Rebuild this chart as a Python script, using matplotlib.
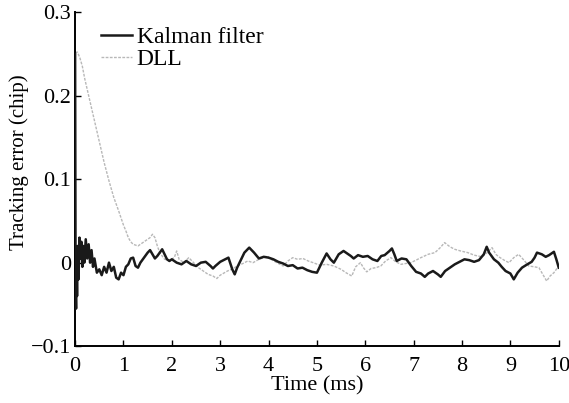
import numpy as np
import matplotlib
matplotlib.use("Agg")
import matplotlib.pyplot as plt

plt.rcParams['font.family'] = ['Liberation Serif', 'DejaVu Serif']

# Kalman filter tracking error
kf_t = [0.0, 0.005, 0.01, 0.02, 0.03, 0.04, 0.05, 0.07, 0.09, 0.11, 0.13, 0.15, 0.17, 0.19,
        0.22, 0.25, 0.28, 0.31, 0.34, 0.37, 0.40, 0.45, 0.50, 0.55, 0.60, 0.65, 0.70, 0.75,
        0.80, 0.85, 0.90, 0.95, 1.00, 1.05, 1.10, 1.15, 1.20, 1.25, 1.30, 1.35, 1.40, 1.45,
        1.50, 1.55, 1.60, 1.65, 1.70, 1.75, 1.80, 1.85, 1.90, 1.95, 2.00, 2.1, 2.2, 2.3, 2.4,
        2.5, 2.6, 2.7, 2.8, 2.85, 2.9, 3.0, 3.1, 3.17, 3.25, 3.3, 3.35, 3.4, 3.5, 3.6, 3.65,
        3.7, 3.8, 3.9, 4.0, 4.1, 4.2, 4.3, 4.4, 4.5, 4.6, 4.7, 4.8, 4.9, 5.0, 5.1, 5.2, 5.28,
        5.35, 5.45, 5.55, 5.6, 5.7, 5.76, 5.85, 5.95, 6.05, 6.15, 6.25, 6.33, 6.4, 6.5, 6.55,
        6.6, 6.65, 6.75, 6.85, 6.95, 7.05, 7.15, 7.23, 7.3, 7.4, 7.5, 7.56, 7.65, 7.75, 7.85,
        7.95, 8.05, 8.15, 8.25, 8.35, 8.45, 8.51, 8.56, 8.66, 8.75, 8.82, 8.9, 9.0, 9.07, 9.15,
        9.24, 9.35, 9.44, 9.5, 9.55, 9.65, 9.73, 9.8, 9.9, 9.95, 10.0]
kf_err = [0.25, 0.10, -0.03, -0.055, 0.0, -0.04, 0.02, -0.02, 0.03, 0.005, 0.025, -0.005, 0.02, 0.0,
          0.028, 0.005, 0.022, 0.0, 0.015, -0.005, 0.005, -0.012, -0.008, -0.015, -0.005, -0.012, 0.0, -0.01,
          -0.005, -0.018, -0.02, -0.012, -0.015, -0.005, -0.002, 0.005, 0.006, -0.004, -0.006, 0.0, 0.004, 0.008,
          0.012, 0.015, 0.01, 0.005, 0.008, 0.012, 0.016, 0.01, 0.004, 0.002, 0.004, 0.0, -0.002, 0.002, -0.002,
          -0.004, 0.0, 0.001, -0.004, -0.007, -0.004, 0.001, 0.004, 0.006, -0.008, -0.014, -0.006, 0.0, 0.012, 0.018, 0.015,
          0.012, 0.005, 0.007, 0.006, 0.004, 0.001, -0.001, -0.004, -0.003, -0.007, -0.006, -0.009, -0.011, -0.012, 0.0, 0.011, 0.004,
          0.0, 0.01, 0.014, 0.012, 0.008, 0.005, 0.009, 0.007, 0.008, 0.004, 0.002, 0.008, 0.009, 0.014, 0.017,
          0.01, 0.002, 0.005, 0.004, -0.004, -0.011, -0.013, -0.017, -0.013, -0.01, -0.014, -0.017, -0.01, -0.006, -0.002,
          0.001, 0.004, 0.003, 0.001, 0.003, 0.01, 0.019, 0.012, 0.004, 0.0, -0.005, -0.01, -0.013, -0.02, -0.012,
          -0.006, -0.002, 0.001, 0.006, 0.012, 0.01, 0.007, 0.009, 0.013, 0.004, -0.006]

# DLL tracking error
dll_t = [0.0, 0.05, 0.1, 0.15, 0.2, 0.3, 0.4, 0.5, 0.6, 0.7, 0.8, 0.9, 1.0, 1.05, 1.1, 1.15, 1.2,
         1.3, 1.35, 1.45, 1.55, 1.6, 1.65, 1.7, 1.75, 1.85, 1.95, 2.05, 2.1, 2.15, 2.25, 2.35, 2.45,
         2.55, 2.65, 2.75, 2.85, 2.93, 3.0, 3.06, 3.15, 3.27, 3.35, 3.47, 3.57, 3.68, 3.8, 3.9, 3.97,
         4.05, 4.17, 4.3, 4.4, 4.5, 4.6, 4.71, 4.82, 4.92, 5.06, 5.2, 5.35, 5.5, 5.6, 5.72, 5.8, 5.9,
         5.96, 6.03, 6.12, 6.22, 6.32, 6.42, 6.53, 6.63, 6.74, 6.84, 6.94, 7.05, 7.15, 7.3, 7.44, 7.55,
         7.64, 7.75, 7.85, 7.97, 8.12, 8.25, 8.41, 8.52, 8.62, 8.7, 8.76, 8.87, 8.97, 9.07, 9.17, 9.28,
         9.38, 9.5, 9.59, 9.67, 9.75, 9.82, 9.9, 10.0]
dll_err = [0.252, 0.252, 0.245, 0.235, 0.22, 0.195, 0.17, 0.145, 0.12, 0.098, 0.078, 0.062, 0.045, 0.038, 0.03, 0.025, 0.022,
           0.02, 0.022, 0.026, 0.03, 0.034, 0.03, 0.02, 0.012, 0.004, 0.003, 0.006, 0.014, 0.004, 0.0, 0.006, 0.0,
           -0.006, -0.01, -0.014, -0.016, -0.019, -0.015, -0.013, -0.01, -0.007, -0.004, -0.001, 0.002, 0.0, 0.004, 0.006, 0.008,
           0.004, 0.0, -0.004, 0.002, 0.006, 0.004, 0.005, 0.002, 0.0, -0.003, -0.002, -0.004, -0.008, -0.012, -0.016, -0.005, 0.0,
           -0.006, -0.011, -0.007, -0.006, -0.004, 0.002, 0.006, 0.001, -0.002, -0.001, 0.0, 0.003, 0.006, 0.01, 0.012, 0.018,
           0.024, 0.019, 0.016, 0.014, 0.012, 0.009, 0.007, 0.012, 0.018, 0.01, 0.007, 0.003, 0.0, 0.006, 0.01, 0.003,
           -0.004, -0.005, -0.006, -0.014, -0.022, -0.016, -0.012, -0.004]

fig = plt.figure(figsize=(5.69, 4.03), dpi=100)
ax = fig.add_axes([0.132, 0.141, 0.850, 0.829])

ax.plot(dll_t, dll_err, color='#b8b8b8', lw=1.0, ls=(0, (2, 1)), label='DLL', zorder=2)
ax.plot(kf_t, kf_err, color='#1a1a1a', lw=1.8, label='Kalman filter', zorder=3)

ax.set_xlim(0, 10)
ax.set_ylim(-0.1, 0.3)
ax.set_xticks(np.arange(0, 11, 1))
ax.set_yticks([-0.1, 0, 0.1, 0.2, 0.3])
ax.set_yticklabels(['\u22120.1', '0', '0.1', '0.2', '0.3'])
ax.tick_params(direction='in', length=4, width=1, labelsize=16)
ax.tick_params(axis='x', pad=8)
ax.tick_params(axis='y', pad=3)
for s in ['top', 'right']:
    ax.spines[s].set_visible(False)
for s in ['left', 'bottom']:
    ax.spines[s].set_linewidth(1.4)

ax.set_xlabel('Time (ms)', fontsize=16, labelpad=0)
ax.set_ylabel('Tracking error (chip)', fontsize=15)
ax.yaxis.set_label_coords(-0.095, 0.55)

h, l = ax.get_legend_handles_labels()
ax.legend(h[::-1], l[::-1], loc='upper left', bbox_to_anchor=(0.025, 1.0), frameon=False,
          fontsize=17, handlelength=1.3, handletextpad=0.2, labelspacing=0.05, borderaxespad=0.2)

fig.savefig('out.png', dpi=100)
